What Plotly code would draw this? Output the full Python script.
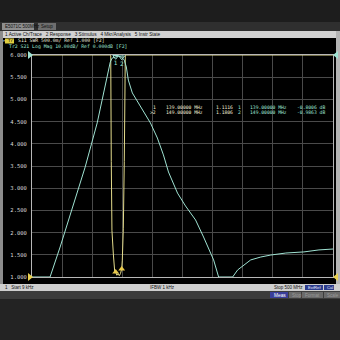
import plotly.graph_objects as go

# ---------------- data ----------------
s21_freq_mhz = [0.009, 30, 46.7, 63.3, 88.3, 108.3, 126.7, 130, 133.3, 139, 143, 149,
                153.3, 156.7, 160, 166.7, 175, 185, 196.7, 208.3, 218.3, 226.7, 241.7,
                255, 271.7, 285, 301.7, 310, 333.3, 341.7, 351.7, 363.3, 380, 396.7,
                421.7, 451.7, 476.7, 500]
s21_db = [-100, -100, -86.5, -71.9, -50.5, -30.6, -8.1, -3.2, -1.35, -0.8006, -0.5, -0.9863,
          -2.3, -5.4, -11.3, -17.1, -20.7, -25.2, -30.6, -37.4, -45.0, -52.7, -62.2,
          -68.0, -74.3, -82.0, -92.3, -100, -100, -96.8, -94.6, -92.3, -91.0, -90.1,
          -89.2, -88.7, -87.8, -87.4]

s11_freq_mhz = [0.009, 130.8, 131.7, 132.8, 135, 137.5, 139, 141, 143, 145, 147, 149,
                150, 151.7, 153.3, 155, 500]
s11_swr = [6.0, 6.0, 3.6, 2.05, 1.54, 1.1, 1.1116, 1.04, 1.08, 1.03, 1.08, 1.1806,
           1.38, 2.1, 3.6, 6.0, 6.0]

marker_freq_mhz = [139, 149]
marker_swr = [1.1116, 1.1806]
marker_db = [-0.8006, -0.9863]
marker_ids = ["1", "2"]

swr_ticks = [1.0, 1.5, 2.0, 2.5, 3.0, 3.5, 4.0, 4.5, 5.0, 5.5, 6.0]

# ---------------- layout helpers ----------------
W = H = 340
L, R, T, B = 32, 333, 55, 277


def px(x):
    return (x - L) / (R - L)


def py(y):
    return (B - y) / (B - T)


YEL = "#e4dc8c"
CYN = "#9fe2d2"
MONO = "DejaVu Sans Mono"
SANS = "Liberation Sans"

fig = go.Figure()

fig.add_trace(go.Scatter(x=s21_freq_mhz, y=s21_db, yaxis="y2", mode="lines",
                         line=dict(color=CYN, width=1), hoverinfo="skip"))
fig.add_trace(go.Scatter(x=s11_freq_mhz, y=s11_swr, mode="lines",
                         line=dict(color=YEL, width=1), hoverinfo="skip"))
fig.add_trace(go.Scatter(x=marker_freq_mhz, y=marker_db, yaxis="y2", mode="markers+text",
                         marker=dict(symbol="triangle-down-open", size=5, color=CYN),
                         text=marker_ids, textposition="bottom center",
                         textfont=dict(family=MONO, size=6, color=CYN),
                         cliponaxis=False, hoverinfo="skip"))
fig.add_trace(go.Scatter(x=marker_freq_mhz, y=marker_swr, mode="markers",
                         marker=dict(symbol="triangle-up", size=6, color="#e8c84a"),
                         hoverinfo="skip"))

shapes = []


def rect(x0, y0, x1, y1, fill, line=None, layer="above"):
    shapes.append(dict(type="rect", xref="paper", yref="paper",
                       x0=px(x0), x1=px(x1), y0=py(y1), y1=py(y0),
                       fillcolor=fill, line=dict(width=0 if line is None else 1,
                                                 color=line or fill), layer=layer))


def tri(points, color):
    path = "M " + " L ".join(f"{px(a)},{py(b)}" for a, b in points) + " Z"
    shapes.append(dict(type="path", xref="paper", yref="paper", path=path,
                       fillcolor=color, line=dict(width=0), layer="above"))


# window pieces
rect(0, 0, 340, 22, "#1d1d1d", layer="below")
rect(0, 22, 340, 31, "#2f2f2f", layer="below")
rect(2, 23, 34, 30, "#8e8e8e", layer="below")
rect(38, 23, 56, 30, "#6e6e6e", layer="below")
rect(0, 31, 340, 38, "#d2d2d2", layer="below")
rect(0, 38, 340, 284, "#000000", layer="below")
rect(0, 31, 3, 291, "#8c8c8c", layer="below")
rect(336, 31, 340, 291, "#b4b4b4", layer="below")
rect(0, 284, 340, 291, "#cfcfcf", layer="below")
rect(0, 291, 340, 299, "#3c3c3c", layer="below")
rect(0, 299, 340, 340, "#232323", layer="below")
rect(305, 285, 323, 290, "#2c3c8c", layer="below")
rect(324, 285, 334, 290, "#2c3c8c", layer="below")
rect(270, 292, 288, 298, "#3a3e9a", layer="below")
rect(289, 292, 301, 298, "#6a6a6a", layer="below")
rect(302, 292, 323, 298, "#6a6a6a", layer="below")
rect(324, 292, 340, 298, "#6a6a6a", layer="below")
rect(5, 38.5, 14, 43.5, "#e0d040", layer="below")

# reference level indicators
tri([(28, 51), (33, 55), (28, 59)], CYN)
tri([(28, 273), (33, 277), (28, 281)], "#e8d050")
tri([(338, 51), (333, 55), (338, 59)], CYN)
tri([(338, 273), (333, 277), (338, 281)], "#e8d050")

ann = []


def text(x, y, s, color, size=5, family=MONO, anchor="left"):
    ann.append(dict(xref="paper", yref="paper", x=px(x), y=py(y), text=s,
                    showarrow=False, xanchor=anchor, yanchor="middle",
                    font=dict(family=family, size=size, color=color)))


text(3, 26.5, "E5071C 500MHz", "#101010", 4.5, SANS)
text(39, 26.5, "Setup", "#101010", 4.5, SANS)
text(3, 34.5, "1 Active Ch/Trace   2 Response   3 Stimulus   4 Mkr/Analysis   5 Instr State",
     "#111111", 4.7, SANS)
text(1, 41, "\u25b8", "#e0e0e0", 4.5)
text(5.5, 41, "Tr1", "#000000", 4.3)
text(16, 41, "S11 SWR 500.0m/ Ref 1.000 [F2]", "#e8e8d8", 4.8)
text(7, 46.5, "Tr2 S21 Log Mag 10.00dB/ Ref 0.000dB [F2]", CYN, 4.8)

rows = [(107.5, "1", "139.00000 MHz", "1.1116", "-0.8006 dB"),
        (112.5, ">2", "149.00000 MHz", "1.1806", "-0.9863 dB")]
for y, mid, f, swr, db in rows:
    text(158, y, mid, "#ece8d0", 4.7, anchor="right")
    text(164, y, f, "#ece8d0", 4.7)
    text(214, y, swr, "#ece8d0", 4.7)
    text(243, y, mid.strip(">"), CYN, 4.7, anchor="right")
    text(248, y, f, CYN, 4.7)
    text(295, y, db, CYN, 4.7)

text(3, 287.5, "1   Start 9 kHz", "#111111", 4.5, SANS)
text(148, 287.5, "IFBW 1 kHz", "#111111", 4.5, SANS)
text(272, 287.5, "Stop 500 MHz", "#111111", 4.5, SANS)
text(306, 287.5, "ExtRef", "#e8e8ff", 4.2, SANS)
text(325, 287.5, "Cal", "#e8e8ff", 4.2, SANS)
text(272, 295, "Meas", "#ffffff", 4.8, SANS)
text(290, 295, "Stop", "#9a9a9a", 4.5, SANS)
text(303, 295, "Format", "#9a9a9a", 4.5, SANS)
text(325, 295, "Scale", "#9a9a9a", 4.5, SANS)

fig.update_layout(
    width=W, height=H,
    margin=dict(l=L, r=W - R, t=T, b=H - B, pad=0),
    paper_bgcolor="#1d1d1d", plot_bgcolor="#000000",
    showlegend=False,
    shapes=shapes, annotations=ann,
    xaxis=dict(range=[0.009, 500], tick0=0, dtick=50, showgrid=True,
               gridcolor="#4a4a4a", gridwidth=1, showticklabels=False, ticks="",
               zeroline=False, showline=True, mirror=True, linecolor="#b8b8b8",
               linewidth=1),
    yaxis=dict(range=[1, 6], tickvals=swr_ticks,
               ticktext=[f"{v:.3f}" for v in swr_ticks], showgrid=True,
               gridcolor="#4a4a4a", gridwidth=1, ticks="", zeroline=False,
               showline=True, mirror=True, linecolor="#b8b8b8", linewidth=1,
               tickfont=dict(family=MONO, size=5.5, color="#d8d8d8"),
               ticklabelstandoff=3),
    yaxis2=dict(range=[-100, 0], overlaying="y", visible=False),
)

fig.write_html("out.html")
